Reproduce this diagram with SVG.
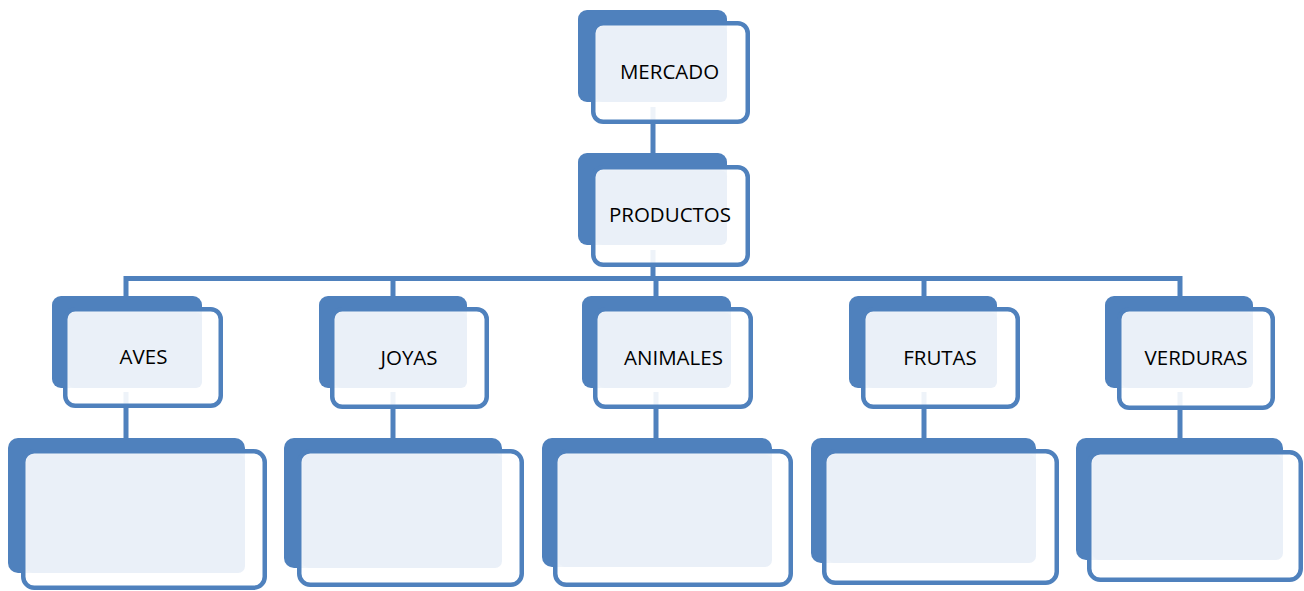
<svg xmlns="http://www.w3.org/2000/svg" width="1304" height="591" viewBox="0 0 1304 591">
<style>
.back{fill:#4F81BD;}
.front{fill:#FFFFFF;fill-opacity:0.9;stroke:#4F81BD;stroke-width:4.5;}
.light{fill:#EAF0F8;}
.conn{fill:none;stroke:#4F81BD;stroke-width:5;stroke-linejoin:miter;}
.lbl{font-family:"Open Sans","Noto Sans",sans-serif;font-size:20.5px;fill:#000000;text-anchor:middle;}
</style>
<rect width="1304" height="591" fill="#FFFFFF"/>
<g id="connectors">
<line class="conn" x1="653" y1="107" x2="653" y2="154"/>
<line class="conn" x1="653" y1="250" x2="653" y2="279"/>
<path class="conn" d="M126 297 V278.5 H1180 V297"/>
<line class="conn" x1="393" y1="278" x2="393" y2="297"/>
<line class="conn" x1="656" y1="278" x2="656" y2="297"/>
<line class="conn" x1="924" y1="278" x2="924" y2="297"/>
<line class="conn" x1="126" y1="392" x2="126" y2="439"/>
<line class="conn" x1="393" y1="392" x2="393" y2="439"/>
<line class="conn" x1="656" y1="392" x2="656" y2="439"/>
<line class="conn" x1="924" y1="392" x2="924" y2="439"/>
<line class="conn" x1="1180" y1="392" x2="1180" y2="439"/>
</g>
<g id="mercado">
<rect class="back" x="578" y="10" width="149" height="92" rx="9"/>
<rect class="front" x="593.25" y="23.25" width="154.5" height="98.5" rx="10"/>
<rect class="light" x="596.5" y="26.5" width="130.5" height="75.5" rx="6"/>
<text class="lbl" x="669.5" y="79">MERCADO</text>
</g>
<g id="productos">
<rect class="back" x="578" y="153" width="149" height="92" rx="9"/>
<rect class="front" x="593.25" y="167.25" width="154.5" height="97.5" rx="10"/>
<rect class="light" x="596.5" y="170.5" width="130.5" height="74.5" rx="6"/>
<text class="lbl" x="670" y="222">PRODUCTOS</text>
</g>
<g id="aves">
<rect class="back" x="52" y="296" width="150" height="92" rx="9"/>
<rect class="front" x="65.25" y="309.25" width="155.5" height="96.5" rx="10"/>
<rect class="light" x="68.5" y="312.5" width="133.5" height="75.5" rx="6"/>
<text class="lbl" x="143.5" y="364">AVES</text>
</g>
<g id="joyas">
<rect class="back" x="319" y="296" width="148" height="92" rx="9"/>
<rect class="front" x="332.25" y="309.25" width="154.5" height="97.5" rx="10"/>
<rect class="light" x="335.5" y="312.5" width="131.5" height="75.5" rx="6"/>
<text class="lbl" x="409" y="365">JOYAS</text>
</g>
<g id="animales">
<rect class="back" x="582" y="296" width="149" height="92" rx="9"/>
<rect class="front" x="595.25" y="309.25" width="155.5" height="97.5" rx="10"/>
<rect class="light" x="598.5" y="312.5" width="132.5" height="75.5" rx="6"/>
<text class="lbl" x="673.5" y="365">ANIMALES</text>
</g>
<g id="frutas">
<rect class="back" x="849" y="296" width="148" height="92" rx="9"/>
<rect class="front" x="863.25" y="309.25" width="154.5" height="97.5" rx="10"/>
<rect class="light" x="866.5" y="312.5" width="130.5" height="75.5" rx="6"/>
<text class="lbl" x="940" y="365">FRUTAS</text>
</g>
<g id="verduras">
<rect class="back" x="1105" y="296" width="148" height="92" rx="9"/>
<rect class="front" x="1119.25" y="309.25" width="153.5" height="98.5" rx="10"/>
<rect class="light" x="1122.5" y="312.5" width="130.5" height="75.5" rx="6"/>
<text class="lbl" x="1196" y="365">VERDURAS</text>
</g>
<g id="aves-detalle">
<rect class="back" x="8" y="438" width="237" height="135" rx="10"/>
<rect class="front" x="23.25" y="451.25" width="241.5" height="136.5" rx="11"/>
<rect class="light" x="26.5" y="454.5" width="218.5" height="118.5" rx="7"/>
</g>
<g id="joyas-detalle">
<rect class="back" x="284" y="438" width="218" height="130" rx="10"/>
<rect class="front" x="299.25" y="451.25" width="222.5" height="133.5" rx="11"/>
<rect class="light" x="302.5" y="454.5" width="199.5" height="113.5" rx="7"/>
</g>
<g id="animales-detalle">
<rect class="back" x="542" y="438" width="230" height="129" rx="10"/>
<rect class="front" x="555.25" y="451.25" width="235.5" height="133.5" rx="11"/>
<rect class="light" x="558.5" y="454.5" width="213.5" height="112.5" rx="7"/>
</g>
<g id="frutas-detalle">
<rect class="back" x="811" y="438" width="225" height="125" rx="10"/>
<rect class="front" x="824.25" y="451.25" width="232.5" height="131.5" rx="11"/>
<rect class="light" x="827.5" y="454.5" width="208.5" height="108.5" rx="7"/>
</g>
<g id="verduras-detalle">
<rect class="back" x="1076" y="438" width="207" height="122" rx="10"/>
<rect class="front" x="1089.25" y="452.25" width="211.5" height="127.5" rx="11"/>
<rect class="light" x="1092.5" y="455.5" width="190.5" height="104.5" rx="7"/>
</g>
</svg>
